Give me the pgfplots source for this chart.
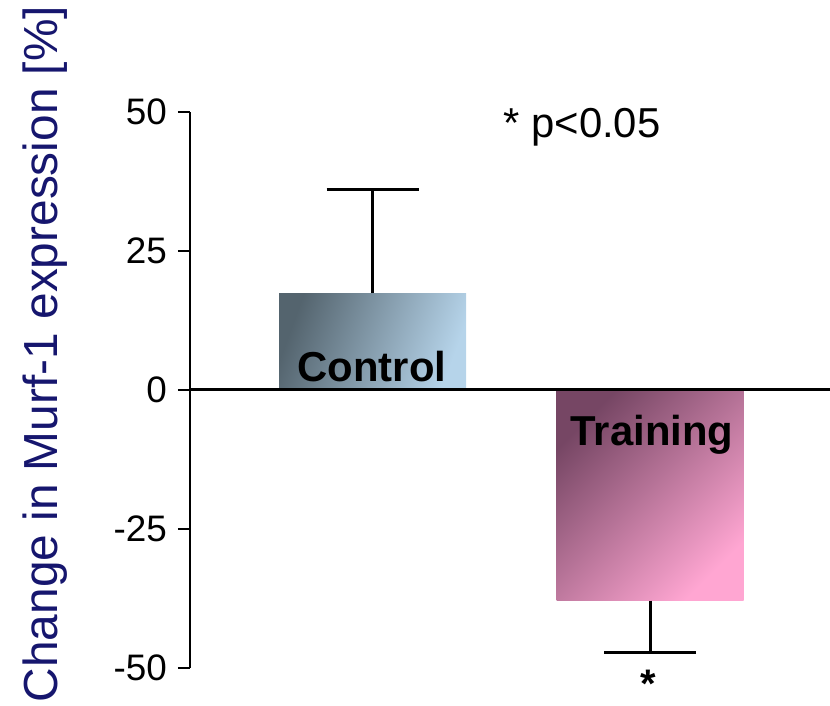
\documentclass[border=0pt]{standalone}
\usepackage{pgfplots}
\pgfplotsset{compat=1.18}
\usepackage{fontspec}
\setmainfont{Liberation Sans}
\definecolor{navy}{RGB}{22,22,110}
\definecolor{ctrlA}{RGB}{84,100,110}
\definecolor{ctrlB}{RGB}{182,212,234}
\definecolor{trnA}{RGB}{118,70,100}
\definecolor{trnB}{RGB}{255,166,210}
\begin{document}
\begin{tikzpicture}
\path[use as bounding box] (0,0) rectangle (830bp,706bp);
\begin{axis}[
  at={(190bp,38bp)}, anchor=south west,
  scale only axis, width=640bp, height=556bp,
  xmin=190, xmax=830, ymin=-50, ymax=50,
  axis y line*=left, axis x line=none,
  xtick=\empty,
  ytick={-50,-25,0,25,50},
  tick align=outside, major tick length=12bp,
  y axis line style={line width=2.2bp},
  every tick/.style={black, line width=2.2bp},
  yticklabel style={font=\fontsize{37}{42}\selectfont, /pgf/number format/assume math mode=true, inner sep=1bp, xshift=-10bp},
  clip=false,
  ylabel={Change in Murf-1 expression [\%]},
  ylabel style={at={(axis description cs:-0.2266,0.5647)}, anchor=center, font=\fontsize{48}{54}\selectfont, text=navy},
]
\addplot[ybar, bar shift=0pt, bar width=187, draw=none, top color=ctrlA, bottom color=ctrlB, shading angle=70]
  coordinates {(372.5,17.4)};
\addplot[ybar, bar shift=0pt, bar width=187, draw=none, top color=trnA, bottom color=trnB, shading angle=45]
  coordinates {(650,-37.9)};
\addplot[draw=none, mark=none, forget plot,
  error bars/.cd, y dir=plus, y explicit, error mark=|,
  error bar style={line width=3bp, black},
  error mark options={line width=3bp, black, mark size=46bp}]
  coordinates {(372.5,17.4) +- (0,18.6)};
\addplot[draw=none, mark=none, forget plot,
  error bars/.cd, y dir=minus, y explicit, error mark=|,
  error bar style={line width=3bp, black},
  error mark options={line width=3bp, black, mark size=46bp}]
  coordinates {(650,-37.9) +- (0,9.4)};
\addplot[black, line width=3bp, mark=none] coordinates {(190,0) (830,0)};
\node[font=\fontsize{42}{48}\selectfont\bfseries] at (axis cs:372,4.3) {Control};
\node[font=\fontsize{42}{48}\selectfont\bfseries] at (axis cs:652,-8.1) {Training};
\node[font=\fontsize{42}{48}\selectfont] at (axis cs:582,47.3) {* p<0.05};
\node[font=\fontsize{40}{46}\selectfont\bfseries, inner sep=0pt] at (axis cs:648,-52.8) {*};
\end{axis}
\end{tikzpicture}
\end{document}
